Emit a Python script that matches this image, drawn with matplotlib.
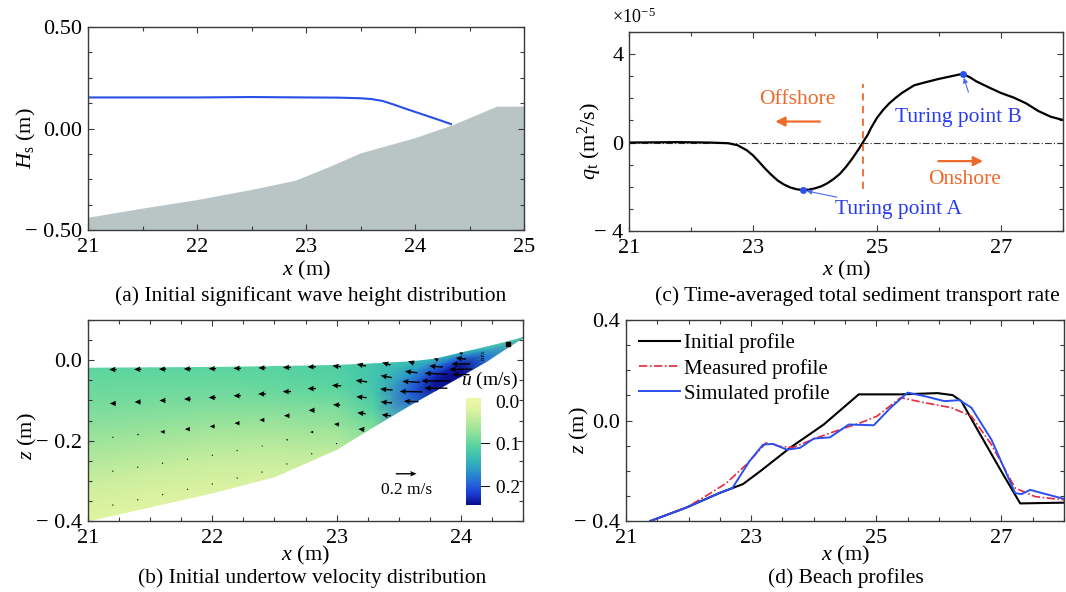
import numpy as np
import matplotlib
matplotlib.use("Agg")
import matplotlib.pyplot as plt
from matplotlib.ticker import MultipleLocator, FixedLocator, FuncFormatter
from matplotlib.colors import LinearSegmentedColormap
import matplotlib.transforms as mtrans

plt.rcParams['font.family'] = ['Liberation Serif', 'DejaVu Serif']
plt.rcParams['mathtext.fontset'] = 'custom'
plt.rcParams['mathtext.rm'] = 'Liberation Serif'
plt.rcParams['mathtext.it'] = 'Liberation Serif:italic'
plt.rcParams['mathtext.bf'] = 'Liberation Serif:bold'

# ---------------- data: (a) significant wave height ----------------
XA_HS = [21.0, 22.0, 22.5, 23.0, 23.3, 23.5, 23.6, 23.7, 23.8, 23.9, 24.0, 24.1, 24.2, 24.33]
HS = [0.153, 0.153, 0.155, 0.153, 0.152, 0.149, 0.145, 0.136, 0.119, 0.100, 0.082, 0.064,
      0.046, 0.022]
XA_BED = [21.0, 21.5, 22.0, 22.5, 22.9, 23.2, 23.5, 24.0, 24.35, 24.75, 25.0]
ZA_BED = [-0.437, -0.392, -0.35, -0.30, -0.255, -0.19, -0.12, -0.045, 0.02, 0.11, 0.11]

# ---------------- data: (b) undertow ----------------
XB = [21.0, 21.5, 22.0, 22.5, 23.0, 23.3, 23.6, 23.8, 24.0, 24.2, 24.5]
ZB_SURF = [-0.020, -0.019, -0.018, -0.016, -0.013, -0.009, -0.004, 0.003, 0.018, 0.032, 0.056]
ZB_BED = [-0.400, -0.365, -0.330, -0.290, -0.222, -0.165, -0.110, -0.075, -0.040, -0.004, 0.056]
SIGMA_FIELD = [0.0, 0.25, 0.5, 0.75, 1.0]
U_FIELD = [
    [-0.098, -0.098, -0.098, -0.102, -0.108, -0.118, -0.128, -0.135, -0.140, -0.120, -0.090],
    [-0.082, -0.082, -0.082, -0.088, -0.100, -0.120, -0.155, -0.185, -0.195, -0.150, -0.090],
    [-0.057, -0.057, -0.057, -0.062, -0.080, -0.115, -0.185, -0.222, -0.232, -0.170, -0.090],
    [-0.030, -0.030, -0.032, -0.040, -0.060, -0.100, -0.195, -0.238, -0.240, -0.180, -0.090],
    [-0.010, -0.012, -0.015, -0.020, -0.040, -0.080, -0.175, -0.232, -0.240, -0.180, -0.090],
]
XQ = [21.2, 21.4, 21.6, 21.8, 22.0, 22.2, 22.4, 22.6, 22.8, 23.0, 23.2, 23.4, 23.6, 23.8, 24.0]
SIGMA_Q = [0.01, 0.24, 0.47, 0.70, 0.93]
U_Q = [
    [-0.07, -0.07, -0.07, -0.07, -0.07, -0.07, -0.07, -0.075, -0.08, -0.08, -0.09, -0.08, -0.06, -0.04, -0.03],
    [-0.06, -0.06, -0.06, -0.065, -0.07, -0.07, -0.075, -0.08, -0.08, -0.09, -0.11, -0.11, -0.12, -0.13, -0.10],
    [-0.01, -0.02, -0.045, -0.05, -0.05, -0.05, -0.05, -0.055, -0.06, -0.07, -0.10, -0.12, -0.17, -0.22, -0.18],
    [0.0, 0.0, -0.01, -0.01, -0.01, -0.01, -0.015, -0.02, -0.03, -0.05, -0.08, -0.11, -0.22, -0.28, -0.22],
    [-0.005, -0.005, -0.005, -0.005, -0.01, -0.01, -0.01, -0.01, -0.01, -0.01, -0.06, -0.09, -0.14, -0.22, -0.17],
]
W_Q = [
    [0, 0, 0, 0, 0, 0, 0, 0, 0, 0.01, 0.02, 0.025, 0.02, 0.02, 0.015],
    [0, 0, 0, 0, 0, 0, 0, 0, 0, 0.005, 0.015, 0.02, 0.015, 0.01, 0.01],
    [0, 0, 0, 0, 0, 0, 0, 0, 0, 0.005, 0.01, 0.01, 0.01, 0.01, 0.0],
    [0, 0, 0, 0, 0, 0, 0, 0, 0, 0.005, 0.01, 0.01, 0.005, 0.0, 0.0],
    [0, 0, 0, 0, 0, 0, 0, 0, 0, 0.0, 0.005, 0.01, 0.005, 0.0, 0.0],
]
REF_SPEED = 0.2
CB_TICKS = [0.0, -0.1, -0.2]
CB_LABELS = ['0.0', '\u2212 0.1', '\u2212 0.2']
U_MIN, U_MAX = -0.24, 0.012
CMAP_VALUES = [-0.24, -0.215, -0.19, -0.16, -0.13, -0.10, -0.07, -0.04, -0.01, 0.012]
CMAP_COLORS = ['#0c0c8c', '#1a3ad0', '#2464d8', '#2a96c8', '#38bcb4', '#58d4a0',
               '#8ee09a', '#bdeb9c', '#e2f4a2', '#eef8a8']
DOT_X, DOT_Z = 24.38, 0.040

# ---------------- data: (c) sediment transport (x 1e-5) ----------------
XC = [21.0, 21.8, 22.3, 22.6, 22.75, 22.9, 23.0, 23.1, 23.2, 23.3, 23.4, 23.5, 23.6, 23.7,
      23.8, 23.9, 24.0, 24.1, 24.2, 24.3, 24.4, 24.5, 24.6, 24.7, 24.77, 24.85, 24.9, 25.0,
      25.1, 25.2, 25.3, 25.4, 25.6, 25.8, 26.0, 26.2, 26.38, 26.5, 26.6, 26.8, 27.0, 27.2,
      27.4, 27.6, 27.8, 28.0]
QT = [0.0, 0.02, 0.0, -0.03, -0.12, -0.35, -0.58, -0.88, -1.19, -1.47, -1.72, -1.90, -2.03,
      -2.11, -2.15, -2.13, -2.07, -1.98, -1.84, -1.65, -1.42, -1.10, -0.73, -0.32, 0.0, 0.35,
      0.64, 1.12, 1.48, 1.78, 2.02, 2.24, 2.59, 2.74, 2.88, 3.0, 3.11, 2.95, 2.77, 2.5, 2.24,
      2.04, 1.78, 1.43, 1.17, 1.02]
TP_X = [23.8, 26.38]
TP_Q = [-2.15, 3.11]
DIVIDE_X = 24.77
DIVIDE_Q = [-2.1, 2.65]

# ---------------- data: (d) beach profiles ----------------
XD_INIT = [21.39, 21.96, 22.49, 22.87, 23.14, 23.62, 24.16, 24.72, 25.39, 25.98, 26.22, 26.36,
           26.57, 27.0, 27.3, 28.0]
ZD_INIT = [-0.40, -0.347, -0.289, -0.253, -0.203, -0.109, -0.016, 0.104, 0.104, 0.109, 0.101,
           0.077, -0.016, -0.203, -0.33, -0.327]
XD_MEAS = [21.39, 21.96, 22.28, 22.6, 22.92, 23.24, 23.46, 23.67, 24.05, 24.42, 24.75, 25.01,
           25.39, 25.77, 26.2, 26.52, 26.84, 27.22, 27.54, 28.0]
ZD_MEAS = [-0.40, -0.347, -0.30, -0.25, -0.176, -0.089, -0.103, -0.107, -0.069, -0.036, -0.009,
           0.017, 0.091, 0.071, 0.051, 0.017, -0.096, -0.269, -0.303, -0.316]
XD_SIM = [21.39, 21.96, 22.49, 22.7, 22.97, 23.19, 23.35, 23.57, 23.78, 24.0, 24.26, 24.56,
          24.96, 25.23, 25.5, 25.77, 26.09, 26.33, 26.52, 26.84, 27.22, 27.32, 27.46, 27.65, 28.0]
ZD_SIM = [-0.40, -0.347, -0.289, -0.269, -0.163, -0.096, -0.093, -0.116, -0.109, -0.072, -0.067,
          -0.016, -0.019, 0.051, 0.111, 0.097, 0.077, 0.081, 0.051, -0.076, -0.289, -0.293,
          -0.276, -0.289, -0.312]

ORANGE = '#ee6a2c'
BLUE_TXT = '#2a3cf0'
SPINE = '#3a3a3a'
FS_TICK = 16
FS_LAB = 16
FS_CAP = 15.5
FS_ANN = 15.5


def minus_fmt(dec):
    def f(v, pos):
        s = f"{abs(v):.{dec}f}"
        if abs(v) < 1e-12:
            return f"{0:.{dec}f}"
        return ('\u2212 ' + s) if v < 0 else s
    return FuncFormatter(f)


def style(ax):
    for sp in ax.spines.values():
        sp.set_color(SPINE)
        sp.set_linewidth(1.0)
    ax.tick_params(which='both', direction='in', top=True, right=True, colors=SPINE,
                   labelcolor='black', labelsize=FS_TICK, width=0.8)
    ax.tick_params(which='major', length=4)
    ax.tick_params(axis='x', which='major', pad=6)
    ax.tick_params(axis='y', which='major', pad=4)
    ax.tick_params(which='minor', length=3)


W, H = 1066, 592
fig = plt.figure(figsize=(W / 100, H / 100), dpi=100)


def rect(l, r, t, b):
    return [l / W, 1 - b / H, (r - l) / W, (b - t) / H]


axA = fig.add_axes(rect(88, 524, 27, 230))
axC = fig.add_axes(rect(629, 1063, 32, 231))
axB = fig.add_axes(rect(88, 523, 320, 521))
axD = fig.add_axes(rect(626, 1064, 320, 521))

# ---------------- (a) ----------------
axA.fill_between(XA_BED, ZA_BED, -0.5, color='#b9c4c4', lw=0)
axA.plot(XA_HS, HS, color='#2750e6', lw=1.5)
axA.set_xlim(21, 25)
axA.set_ylim(-0.5, 0.5)
axA.xaxis.set_major_locator(MultipleLocator(1))
axA.xaxis.set_minor_locator(MultipleLocator(0.5))
axA.yaxis.set_major_locator(MultipleLocator(0.5))
axA.yaxis.set_minor_locator(MultipleLocator(0.125))
axA.yaxis.set_major_formatter(minus_fmt(2))
style(axA)
axA.set_xlabel('$x$ (m)', fontsize=FS_LAB, va='center')
axA.xaxis.set_label_coords(0.5, -0.2)
axA.set_ylabel('$H_{\\rm s}$ (m)', fontsize=FS_LAB, va='center')
axA.yaxis.set_label_coords(-0.14, 0.45)

# ---------------- (c) ----------------
axC.axhline(0, color='#333333', lw=0.8, dashes=(6, 2, 1, 2))
axC.plot(XC, QT, color='black', lw=1.6)
axC.plot([DIVIDE_X, DIVIDE_X], DIVIDE_Q, color=ORANGE, lw=1.3, ls=(0, (4, 3)))
axC.plot(TP_X, TP_Q, 'o', color='#2a50f0', ms=4, zorder=5)
axC.set_xlim(21, 28)
axC.set_ylim(-4, 5)
axC.xaxis.set_major_locator(FixedLocator([21, 23, 25, 27]))
axC.xaxis.set_minor_locator(MultipleLocator(1))
axC.yaxis.set_major_locator(FixedLocator([-4, 0, 4]))
axC.yaxis.set_minor_locator(MultipleLocator(1))
axC.yaxis.set_major_formatter(minus_fmt(0))
style(axC)
axC.set_xlabel('$x$ (m)', fontsize=FS_LAB, va='center')
axC.xaxis.set_label_coords(0.5, -0.2)
axC.set_ylabel('$q_{\\rm t}$ (m$^2$/s)', fontsize=FS_LAB, va='center')
axC.yaxis.set_label_coords(-0.09, 0.45)
axC.text(-0.04, 1.075, '$\\times$10$^{\u2212\\,5}$', transform=axC.transAxes, fontsize=13,
         ha='left', va='center')
axC.text(23.71, 1.94, 'Offshore', color=ORANGE, fontsize=FS_ANN, ha='center', va='center')
axC.annotate('', xy=(23.36, 0.95), xytext=(24.08, 0.95),
             arrowprops=dict(arrowstyle='-|>', color=ORANGE, lw=1.6, mutation_scale=14,
                             shrinkA=0, shrinkB=0))
axC.text(26.42, -1.65, 'Onshore', color=ORANGE, fontsize=FS_ANN, ha='center', va='center')
axC.annotate('', xy=(26.71, -0.84), xytext=(25.99, -0.84),
             arrowprops=dict(arrowstyle='-|>', color=ORANGE, lw=1.6, mutation_scale=14,
                             shrinkA=0, shrinkB=0))
axC.annotate('Turing point A', xy=(TP_X[0], TP_Q[0]), xytext=(24.33, -3.05),
             color=BLUE_TXT, fontsize=FS_ANN, ha='left', va='center',
             arrowprops=dict(arrowstyle='-|>', color='#4a6af0', lw=0.8, mutation_scale=7,
                             shrinkA=2, shrinkB=3))
axC.annotate('Turing point B', xy=(TP_X[1], TP_Q[1]), xytext=(25.29, 1.13),
             color=BLUE_TXT, fontsize=FS_ANN, ha='left', va='center',
             arrowprops=dict(arrowstyle='-|>', color='#4a6af0', lw=0.8, mutation_scale=7,
                             shrinkA=10, shrinkB=3, relpos=(0.62, 1.0)))

# ---------------- (b) ----------------
cmap = LinearSegmentedColormap.from_list(
    'uvel', [((v - U_MIN) / (U_MAX - U_MIN), c) for v, c in zip(CMAP_VALUES, CMAP_COLORS)])
xb = np.array(XB)
surf = np.array(ZB_SURF)
bed = np.array(ZB_BED)
sig = np.array(SIGMA_FIELD)[:, None]
XX = np.tile(xb, (len(SIGMA_FIELD), 1))
ZZ = surf[None, :] + sig * (bed - surf)[None, :]
pm = axB.pcolormesh(XX, ZZ, np.array(U_FIELD), cmap=cmap, vmin=U_MIN, vmax=U_MAX,
                    shading='gouraud', rasterized=True)
xq = np.array(XQ)
sq = np.interp(xq, xb, surf)
bq = np.interp(xq, xb, bed)
fq = np.array(SIGMA_Q)[:, None]
XQ2 = np.tile(xq, (len(SIGMA_Q), 1))
ZQ2 = sq[None, :] + fq * (bq - sq)[None, :]
Q = axB.quiver(XQ2, ZQ2, np.array(U_Q), np.array(W_Q), angles='uv', scale_units='x',
               scale=1.2, pivot='middle', width=0.0032, headwidth=4, headlength=4.5,
               headaxislength=4, color='black', zorder=3)
axB.quiverkey(Q, 23.56, -0.2825, REF_SPEED, '0.2 m/s', labelpos='S', coordinates='data',
              fontproperties={'size': 12.5}, labelsep=0.08)
axB.plot([DOT_X], [DOT_Z], 's', color='black', ms=3.5)
axB.text(24.18, 0.012, 'm/s', rotation=90, fontsize=5, ha='center', va='center')
axB.set_xlim(21, 24.5)
axB.set_ylim(-0.4, 0.1)
axB.xaxis.set_major_locator(MultipleLocator(1))
axB.xaxis.set_minor_locator(MultipleLocator(0.25))
axB.yaxis.set_major_locator(FixedLocator([-0.4, -0.2, 0.0]))
axB.yaxis.set_minor_locator(MultipleLocator(0.05))
axB.yaxis.set_major_formatter(minus_fmt(1))
style(axB)
axB.set_xlabel('$x$ (m)', fontsize=FS_LAB, va='center')
axB.xaxis.set_label_coords(0.5, -0.17)
axB.set_ylabel('$z$ (m)', fontsize=FS_LAB, va='center')
axB.yaxis.set_label_coords(-0.14, 0.42)

cax = fig.add_axes(rect(466, 481, 398, 505))
cb = fig.colorbar(pm, cax=cax)
cb.outline.set_visible(False)
cb.set_ticks([])
btr = mtrans.blended_transform_factory(cax.transAxes, cax.transData)
for v, lab in zip(CB_TICKS, CB_LABELS):
    cax.text(3.6, v, lab, transform=btr, ha='right', va='center', fontsize=14)
cax.text(1.6, 1.16, '$u$ (m/s)', transform=cax.transAxes, ha='center', va='center',
         fontsize=14)

# ---------------- (d) ----------------
axD.plot(XD_INIT, ZD_INIT, color='black', lw=1.5, label='Initial profile')
axD.plot(XD_MEAS, ZD_MEAS, color='#e8283c', lw=1.2, dashes=(5, 1.5, 1, 1.5),
         label='Measured profile')
axD.plot(XD_SIM, ZD_SIM, color='#2a50f0', lw=1.4, label='Simulated profile')
axD.set_xlim(21, 28)
axD.set_ylim(-0.4, 0.4)
axD.xaxis.set_major_locator(FixedLocator([21, 23, 25, 27]))
axD.xaxis.set_minor_locator(MultipleLocator(0.5))
axD.yaxis.set_major_locator(FixedLocator([-0.4, 0.0, 0.4]))
axD.yaxis.set_minor_locator(MultipleLocator(0.1))
axD.yaxis.set_major_formatter(minus_fmt(1))
style(axD)
axD.set_xlabel('$x$ (m)', fontsize=FS_LAB, va='center')
axD.xaxis.set_label_coords(0.5, -0.17)
axD.set_ylabel('$z$ (m)', fontsize=FS_LAB, va='center')
axD.yaxis.set_label_coords(-0.107, 0.45)
axD.legend(loc='upper left', bbox_to_anchor=(0.0, 0.995), frameon=False, fontsize=15,
           handlelength=2.0, labelspacing=0.25, handletextpad=0.2, borderaxespad=0.2)

# ---------------- captions ----------------
fig.text(311 / W, 1 - 296 / H, '(a) Initial significant wave height distribution',
         ha='center', va='center', fontsize=FS_CAP)
fig.text(857 / W, 1 - 296 / H, '(c) Time-averaged total sediment transport rate',
         ha='center', va='center', fontsize=FS_CAP)
fig.text(312 / W, 1 - 578 / H, '(b) Initial undertow velocity distribution',
         ha='center', va='center', fontsize=FS_CAP)
fig.text(846 / W, 1 - 578 / H, '(d) Beach profiles', ha='center', va='center', fontsize=FS_CAP)

fig.savefig('out.png', dpi=100)
